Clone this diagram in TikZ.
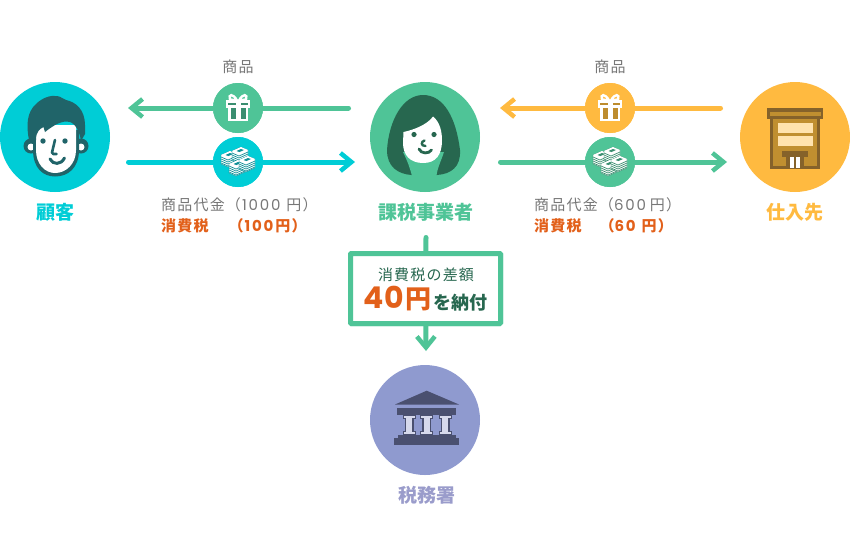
\documentclass[tikz,border=0pt]{standalone}
\usepackage{fontspec}
\setmainfont{Noto Sans CJK JP}
\newfontfamily\spc[LetterSpace=8]{Noto Sans CJK JP}
\newfontfamily\dig[LetterSpace=4]{Poppins}
\newfontfamily\digw[LetterSpace=12]{Poppins}
\usetikzlibrary{arrows.meta}
\definecolor{cCyan}{HTML}{00CDD6}
\definecolor{cGreen}{HTML}{4FC497}
\definecolor{cOrange}{HTML}{FFBA40}
\definecolor{cViolet}{HTML}{8F9ACF}
\definecolor{cLabelV}{HTML}{9A9CCB}
\definecolor{cTeal}{HTML}{206469}
\definecolor{cForest}{HTML}{27674F}
\definecolor{cGiftG}{HTML}{3A8E70}
\definecolor{cGiftO}{HTML}{BD8C2E}
\definecolor{cMoneyC}{HTML}{0E8F97}
\definecolor{cBrown}{HTML}{C08F30}
\definecolor{cDarkBrown}{HTML}{85622A}
\definecolor{cCream}{HTML}{FFE3AE}
\definecolor{cSlate}{HTML}{4A5070}
\definecolor{cShaft}{HTML}{D6D9EC}
\definecolor{cTax}{HTML}{E2601A}
\definecolor{cGrayT}{HTML}{777777}
\tikzset{
  x=1pt,y=-1pt,
  bigdisc/.style={circle,fill=#1,minimum size=110pt,inner sep=0pt},
  smalldisc/.style={circle,fill=#1,minimum size=50pt,inner sep=0pt},
  flowline/.style={draw=#1,line width=5pt,line cap=round},
  flowarrow/.style={draw=#1,line width=5pt,line cap=butt,-{Straight Barb[length=11pt,width=18pt,line width=4.5pt,sharp]}},
  plain/.style={inner sep=0pt,font=\fontsize{15}{16}\selectfont\spc,text=cGrayT},
  taxt/.style={inner sep=0pt,font=\fontsize{15}{16}\selectfont\bfseries\spc,text=cTax},
  who/.style={inner sep=0pt,font=\fontsize{19}{20}\selectfont\bfseries,text=#1},
}
\newcommand{\giftshape}[3]{% x, y, dark colour
  \begin{scope}[shift={(#1,#2)}]
    \draw[white,line width=2.4pt] (-1,-7.5) .. controls (-5,-15) and (-10,-14) .. (-8,-8.5) -- (-1,-7.5);
    \draw[white,line width=2.4pt] (1,-7.5) .. controls (5,-15) and (10,-14) .. (8,-8.5) -- (1,-7.5);
    \fill[white] (-12,-8) rectangle (12,0);
    \fill[white] (-10,0) rectangle (10,13);
    \fill[#3] (-10,-5) rectangle (-2.5,-2.8);
    \fill[#3] (2.5,-5) rectangle (10,-2.8);
    \fill[#3] (-7.5,0) rectangle (-2.5,11);
    \fill[#3] (2.5,0) rectangle (7.5,11);
  \end{scope}}
\newcommand{\bundle}[3]{% x, y, dark colour
  \begin{scope}[shift={(#1,#2)}]
    \fill[white,draw=#3,line width=.4pt,line join=round] (-8,0) -- (1,-4) -- (8,-1) -- (8,8) -- (-1,12) -- (-8,9) -- cycle;
    \foreach \d in {2,4,6,8}{
      \draw[#3,line width=.7pt] (-8,\d) -- (-1,3+\d) -- (8,\d-1);
    }
    \fill[white] (-8,0) -- (1,-4) -- (8,-1) -- (-1,3) -- cycle;
    \fill[#3] (-3.5,0) -- (1,-2) -- (4,-1) -- (-.5,1) -- cycle;
  \end{scope}}
\newcommand{\moneyshape}[3]{%
  \begin{scope}[shift={(#1,#2)}]
    \bundle{-9}{-7}{#3}
    \bundle{2}{-11}{#3}
    \bundle{-1}{2}{#3}
    \bundle{9}{-2}{#3}
  \end{scope}}
\begin{document}
\begin{tikzpicture}
\useasboundingbox (0,0) rectangle (850,550);
% end points
\coordinate (c1s) at (348.5,108);
\coordinate (c1e) at (128,108);
\coordinate (c2s) at (128.5,162);
\coordinate (c2e) at (355,162);
\coordinate (c3s) at (720.5,108);
\coordinate (c3e) at (500,108);
\coordinate (c4s) at (500.5,162);
\coordinate (c4e) at (727,162);
\coordinate (c5s) at (426,237.5);
\coordinate (c5e) at (426,351);
% nodes
\node[bigdisc=cCyan] (cust) at (55,137) {};
\node[bigdisc=cGreen] (biz) at (425,137) {};
\node[bigdisc=cOrange] (supp) at (795,137) {};
\node[bigdisc=cViolet] (office) at (425,420) {};
\node[smalldisc=cGreen] (g1) at (238,108) {};
\node[smalldisc=cCyan] (m1) at (238,162) {};
\node[smalldisc=cOrange] (g2) at (610,108) {};
\node[smalldisc=cGreen] (m2) at (610,162) {};
\node[draw=cGreen,line width=5pt,fill=white,rounded corners=1pt,minimum width=150pt,minimum height=70pt,inner sep=0pt] (box) at (425.5,288.5) {};
% connectors
\draw[flowline=cGreen] (c1s) -- (g1);
\draw[flowarrow=cGreen] (g1) -- (c1e);
\draw[flowline=cCyan] (c2s) -- (m1);
\draw[flowarrow=cCyan] (m1) -- (c2e);
\draw[flowline=cOrange] (c3s) -- (g2);
\draw[flowarrow=cOrange] (g2) -- (c3e);
\draw[flowline=cGreen] (c4s) -- (m2);
\draw[flowarrow=cGreen] (m2) -- (c4e);
\draw[flowline=cGreen] (c5s) -- (box);
\draw[flowarrow=cGreen] (box) -- (c5e);
% redraw discs' content over connectors
\fill[cGreen] (g1) circle (25);
\fill[cCyan] (m1) circle (25);
\fill[cOrange] (g2) circle (25);
\fill[cGreen] (m2) circle (25);
\draw[cGreen,line width=5pt,fill=white,rounded corners=1pt] (350.5,253.5) rectangle (500.5,323.5);
\giftshape{238}{108}{cGiftG}
\giftshape{610}{108}{cGiftO}
\moneyshape{238}{162}{cMoneyC}
\moneyshape{610}{162}{cGiftG}
% man
\fill[cTeal] (31,146) circle (7.5);
\fill[cTeal] (81,146) circle (7.5);
\fill[white] (31,147) circle (3.5);
\fill[white] (81,147) circle (3.5);
\fill[cTeal] (33,130) -- (79,130) -- (79,150) .. controls (79,168) and (68,176.5) .. (55,176.5) .. controls (43,176.5) and (33,168) .. (33,150) -- cycle;
\fill[white] (36,125) -- (76,125) -- (76,150) .. controls (76,164) and (66,173) .. (55,173) .. controls (45,173) and (36,164) .. (36,150) -- cycle;
\fill[cTeal] (29,140) .. controls (26,125) and (27,112) .. (36,104) .. controls (42,98) and (50,95) .. (57,96) .. controls (61,96.5) and (63,99) .. (66,100) .. controls (76,102) and (85,110) .. (85,125) -- (85,134) -- (81,141) .. controls (80,133) and (76,124) .. (70,122) .. controls (62,120) and (54,125) .. (45,132) -- (43.5,127) .. controls (40,129) and (36,131) .. (36,140) -- (35,141) -- cycle;
\fill[cTeal] (43,141) circle (2.7);
\fill[cTeal] (65,141) circle (2.7);
\draw[cTeal,line width=2.6pt,line cap=round,line join=round] (55,140) -- (52,152.5) .. controls (52,154) and (54,154.5) .. (56.5,154);
\draw[cTeal,line width=3pt,line cap=round] (50,159) .. controls (53,165) and (61,165) .. (64.5,158);
% woman
\fill[cForest] (411.5,175) .. controls (398,174) and (387,167) .. (387,150) .. controls (389,120) and (403,95) .. (423,95) .. controls (444,95) and (456,118) .. (460,150) .. controls (461,167) and (451,174) .. (437,175) -- cycle;
\fill[cGreen] (412,176) .. controls (410,168) and (407,160) .. (403,152) -- (444,152) .. controls (441,161) and (437,169) .. (436.5,176) -- cycle;
\fill[white] (403.5,132) .. controls (413,130) and (427,125) .. (433,116.5) .. controls (440,122) and (442,132) .. (442,140) .. controls (442,155) and (436,163) .. (423,163) .. controls (410,163) and (403,155) .. (403,143) -- cycle;
\fill[cForest] (414,134.5) circle (2.6);
\fill[cForest] (434,134.5) circle (2.6);
\draw[cForest,line width=2.4pt,line cap=round] (424.5,140.5) .. controls (421,141.5) and (420.5,146) .. (425.5,146);
\draw[cForest,line width=2.8pt,line cap=round] (419,149) .. controls (421,154) and (429,154) .. (431.5,150);
% shop
\fill[cDarkBrown] (770,117) rectangle (820,169);
\fill[cBrown] (773,118) rectangle (817,166);
\fill[cDarkBrown] (767,108) rectangle (823,118.5);
\fill[cBrown] (769.5,111.5) rectangle (820.5,116);
\fill[cCream] (778,123) rectangle (813,133);
\fill[cCream] (778,136) rectangle (813,146);
\fill[cDarkBrown] (782,151) rectangle (808,157);
\fill[cDarkBrown] (786,156) rectangle (804,169);
\fill[white] (790,157) rectangle (800,168);
\fill[cDarkBrown] (794.4,157) rectangle (795.6,168);
% office
\fill[cSlate] (395,404.5) -- (426.7,390.7) -- (459,404.5) -- cycle;
\fill[cSlate] (397,408) rectangle (456,415);
\foreach \cx in {409,426.7,445}{
  \fill[cSlate] (\cx-4.5,415) rectangle (\cx+4.5,435);
  \fill[cSlate] (\cx-6.5,415) rectangle (\cx+6.5,418.5);
  \fill[cSlate] (\cx-6.5,431) rectangle (\cx+6.5,435);
  \fill[cShaft] (\cx-5.5,416) rectangle (\cx+5.5,418);
  \fill[cShaft] (\cx-3.2,418) rectangle (\cx+3.2,431.5);
  \fill[cShaft] (\cx-5.5,431.5) rectangle (\cx+5.5,434);
}
\fill[cSlate] (398,435) rectangle (456,438);
\fill[cSlate] (394,438) rectangle (459,445);
% labels
\node[who=cCyan] (lcust) at (55,212) {顧客};
\node[who=cGreen] (lbiz) at (426,212) {課税事業者};
\node[who=cOrange] (lsupp) at (795,212) {仕入先};
\node[who=cLabelV] (loff) at (427,495) {税務署};
\node[plain] (t1) at (238,66.5) {商品};
\node[plain] (t2) at (610,66.5) {商品};
\node[plain,anchor=west] (t3) at (161,204.5) {商品代金（{\digw\hspace{1pt}1000\hspace{6pt}}円）};
\node[taxt,anchor=west] (t4) at (161,225.5) {消費税\hspace{20pt}（{\digw\hspace{1pt}100\hspace{2pt}}円）};
\node[plain,anchor=west] (t5) at (534,204.5) {商品代金（{\digw 600\hspace{4pt}}円）};
\node[taxt,anchor=west] (t6) at (534,225.5) {消費税\hspace{18pt}（{\digw 60\hspace{6pt}}円）};
\node[plain,text=cForest] (t7) at (426,275) {消費税の差額};
\node[inner sep=0pt,anchor=west,text=cTax,font=\fontsize{30}{30}\selectfont\bfseries] (t8) at (363,299) {{\dig 40}\hspace{1pt}{\fontsize{26}{26}\selectfont 円}};
\node[inner sep=0pt,anchor=west,text=cForest,font=\fontsize{18}{18}\selectfont\bfseries] (t9) at (433,302.5) {を納付};
\end{tikzpicture}
\end{document}
